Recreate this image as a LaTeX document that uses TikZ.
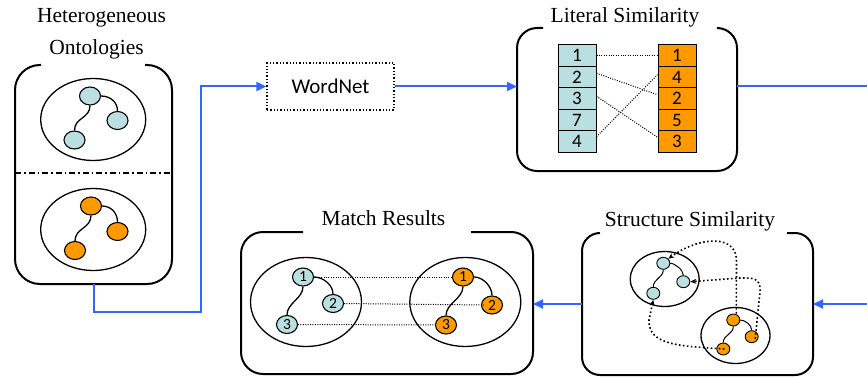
\documentclass[tikz,border=0pt]{standalone}
\usepackage{fontspec}
\setmainfont{Liberation Serif}
\newfontfamily\calib{Carlito}
\usetikzlibrary{shapes.geometric,arrows.meta}
\definecolor{cy}{HTML}{B9DFE1}
\definecolor{org}{HTML}{FF9900}
\definecolor{flowblue}{HTML}{3366FF}
\tikzset{
  boxline/.style={line width=2pt,rounded corners=#1},
  boxline/.default=22pt,
  frame/.style={inner sep=0pt,outer sep=0pt,draw=none},
  flow/.style={draw=flowblue,line width=2pt},
  flowarrow/.style={flow,-{Triangle[length=10pt,width=9pt]}},
  onode/.style={ellipse,draw,line width=1.1pt,inner sep=0pt,minimum width=21pt,minimum height=18pt,font=\calib\fontsize{15.5}{15.5}\selectfont},
  cyn/.style={onode,fill=cy},
  orn/.style={onode,fill=org},
  snode/.style={ellipse,draw,line width=0.9pt,inner sep=0pt,minimum width=13pt,minimum height=12pt},
  scyn/.style={snode,fill=cy},
  sorn/.style={snode,fill=org},
  oell/.style={ellipse,draw,line width=1.3pt,inner sep=0pt},
  cell/.style={draw,line width=1pt,minimum width=38pt,minimum height=21.5pt,inner sep=0pt,font=\calib\fontsize{19}{19}\selectfont},
  link/.style={line width=1.3pt},
  fdot/.style={line width=1pt,dash pattern=on 1pt off 1.4pt},
  sdot/.style={line width=1.6pt,dash pattern=on 1.6pt off 2.4pt},
  sarrow/.style={sdot,-{Stealth[length=6pt,width=5pt]}},
  title/.style={font=\fontsize{21.5}{26}\selectfont,anchor=base,inner sep=0pt}
}
\begin{document}
\begin{tikzpicture}[x=1pt,y=-1pt]
\useasboundingbox (0,0) rectangle (867,377);

% ---------------- Heterogeneous Ontologies ----------------
\node[title] (t1) at (101.5,23) {Heterogeneous};
\node[title] (t2) at (96.5,55) {Ontologies};
\node[frame,minimum width=157pt,minimum height=219pt] (onto) at (93.5,174.5) {};
\draw[boxline=25pt] ([xshift=26pt]onto.north west) -- (onto.north west) -- (onto.south west)
  -- (onto.south east) -- (onto.north east) -- ([xshift=-27pt]onto.north east);
\draw[line width=1.2pt,dash pattern=on 6pt off 3pt on 1.5pt off 3pt] (onto.west |- 0,173) coordinate (dl) -- (onto.east |- dl);

\node[oell,minimum width=105pt,minimum height=82pt] (oe1) at (93.2,119.5) {};
\node[cyn] (a1) at (90,96) {};
\node[cyn] (a2) at (117.5,120.5) {};
\node[cyn] (a3) at (74.5,140) {};
\draw[link] (a1.east) .. controls +(9,0) and +(0,-9) .. (a2.north);
\draw[link] (a1.south) .. controls +(0,13) and +(0,-13) .. (a3.north);

\node[oell,minimum width=105pt,minimum height=82pt] (oe2) at (93.2,229.5) {};
\node[orn] (b1) at (91,206) {};
\node[orn] (b2) at (117.5,231.5) {};
\node[orn] (b3) at (75,250.5) {};
\draw[link] (b1.east) .. controls +(9,0) and +(0,-9) .. (b2.north);
\draw[link] (b1.south) .. controls +(0,13) and +(0,-13) .. (b3.north);

% ---------------- WordNet ----------------
\node[draw,line width=1.3pt,dash pattern=on 1.3pt off 2pt,minimum width=127pt,minimum height=47pt,
  inner sep=0pt,font=\calib\fontsize{21}{21}\selectfont] (wn) at (330.5,86.5) {WordNet};
\coordinate (c1) at (201,86.5);
\draw[flowarrow] (onto.south) -- ++(0,28) -| (c1) -- (wn.west);

% ---------------- Literal Similarity ----------------
\node[title] (t3) at (625,22.5) {Literal Similarity};
\node[frame,minimum width=220pt,minimum height=143pt] (lit) at (627,99.5) {};
\draw[boxline=20pt] ([xshift=26pt]lit.north west) -- (lit.north west) -- (lit.south west)
  -- (lit.south east) -- (lit.north east) -- ([xshift=-20pt]lit.north east);
\draw[flowarrow] (wn.east) -- (wn.east -| lit.west);
\coordinate (r1) at (867,86.5);
\draw[flow] (wn.east -| lit.east) -- (r1);

\node[cell,fill=cy] (la1) at (577,55.75) {1};
\node[cell,fill=cy] (la2) at (577,77.25) {2};
\node[cell,fill=cy] (la3) at (577,98.75) {3};
\node[cell,fill=cy] (la4) at (577,120.25) {7};
\node[cell,fill=cy] (la5) at (577,141.75) {4};
\node[cell,fill=org] (ra1) at (677,55.75) {1};
\node[cell,fill=org] (ra2) at (677,77.25) {4};
\node[cell,fill=org] (ra3) at (677,98.75) {2};
\node[cell,fill=org] (ra4) at (677,120.25) {5};
\node[cell,fill=org] (ra5) at (677,141.75) {3};
\draw[fdot] (la1.east) -- (ra1.west);
\draw[fdot] ([yshift=4pt]la2.east) -- ([yshift=4pt]ra3.west);
\draw[fdot] ([yshift=2.5pt]la3.east) -- ([yshift=4.5pt]ra5.west);
\draw[fdot] ([yshift=5pt]la5.east) -- ([yshift=2.5pt]ra2.west);

% ---------------- Structure Similarity ----------------
\node[title] (t4) at (690,226) {Structure Similarity};
\node[frame,minimum width=231pt,minimum height=142pt] (sb) at (697.5,304) {};
\draw[boxline=18pt] ([xshift=18pt]sb.north west) -- (sb.north west) -- (sb.south west)
  -- (sb.south east) -- (sb.north east) -- ([xshift=-26pt]sb.north east);
\coordinate (r2) at (867,304);
\draw[flowarrow] (r2) -- (r2 -| sb.east);

\node[oell,minimum width=69pt,minimum height=55pt] (se1) at (664.7,279) {};
\node[scyn] (u1) at (663.3,263.3) {};
\node[scyn] (u2) at (683.3,281.7) {};
\node[scyn] (u3) at (653.3,293.3) {};
\draw[line width=1pt] (u1.east) .. controls +(5,0) and +(0,-5) .. (u2.north);
\draw[line width=1pt] (u1.south) .. controls +(0,8) and +(0,-8) .. (u3.north);

\node[oell,minimum width=69pt,minimum height=56pt] (se2) at (735.5,335.5) {};
\node[sorn] (l1) at (733.3,320) {};
\node[sorn] (l2) at (751.7,336.7) {};
\node[sorn] (l3) at (723.3,349) {};
\draw[line width=1pt] (l1.east) .. controls +(5,0) and +(0,-5) .. (l2.north);
\draw[line width=1pt] (l1.south) .. controls +(0,8) and +(0,-8) .. (l3.north);

\draw[sarrow] ([xshift=3pt]l1.north) -- (736.5,262) .. controls (737.5,234) and (700,236) .. (u1.north east);
\draw[sarrow] ([xshift=3.5pt,yshift=-2pt]l2.center) -- (760,292) .. controls (761,277) and (752,278) .. (740,278) -- (u2.east);
\draw[sarrow] ([xshift=1pt]l3.center) .. controls (682,346) and (648,346) .. (649,320) -- (u3.south);

% ---------------- Match Results ----------------
\node[title] (t5) at (383.5,225) {Match Results};
\node[frame,minimum width=292pt,minimum height=142pt] (mb) at (387,303) {};
\draw[boxline=22pt] ([xshift=62pt]mb.north west) -- (mb.north west) -- (mb.south west)
  -- (mb.south east) -- (mb.north east) -- ([xshift=-62pt]mb.north east);
\draw[flowarrow] (sb.west) -- (sb.west -| mb.east);

\node[oell,minimum width=111pt,minimum height=89pt] (me1) at (306,302) {};
\node[oell,minimum width=111pt,minimum height=89pt] (me2) at (465.3,302) {};
\node[cyn] (m1) at (303,277) {1};
\node[cyn] (m2) at (333,303.5) {2};
\node[cyn] (m3) at (287,324.5) {3};
\node[orn] (n1) at (463,277) {1};
\node[orn] (n2) at (492,305) {2};
\node[orn] (n3) at (446,325) {3};
\draw[link] (m1.east) .. controls +(9,0) and +(0,-9) .. (m2.north);
\draw[link] (m1.south) .. controls +(0,12) and +(0,-12) .. (m3.north);
\draw[link] (n1.east) .. controls +(9,0) and +(0,-9) .. (n2.north);
\draw[link] (n1.south) .. controls +(0,12) and +(0,-12) .. (n3.north);
\draw[fdot] (m1.east) -- (n1.west);
\draw[fdot] (m2.east) -- ([xshift=3pt]n2.west);
\draw[fdot] (m3.east) -- (n3.west);
\end{tikzpicture}
\end{document}
